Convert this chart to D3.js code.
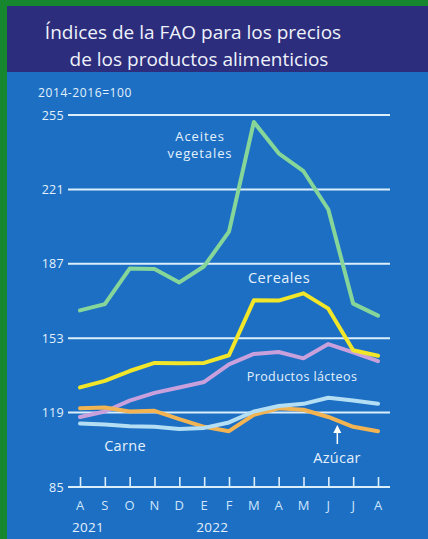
<!DOCTYPE html>
<html><head><meta charset="utf-8">
<script src="https://cdn.jsdelivr.net/npm/d3@7"></script>
<style>html,body{margin:0;padding:0;background:#17872f;}svg{display:block;}</style>
</head><body>
<script>
const months = ["A","S","O","N","D","E","F","M","A","M","J","J","A"];
const years = [{label:"2021", idx:0},{label:"2022", idx:5}];
const yTicks = [85,119,153,187,221,255];
const aceites = [165.7,168.6,184.8,184.6,178.5,185.9,201.7,251.8,237.5,229.3,211.8,168.8,163.3];
const cereales = [130.5,133.5,138.0,141.7,141.5,141.7,145.2,170.3,170.2,173.5,166.5,147.5,145.0];
const lacteos = [117.0,119.5,124.5,128.0,130.5,133.0,141.0,145.8,146.7,143.8,150.3,146.5,142.5];
const carne = [114.0,113.6,112.8,112.5,111.5,112.0,114.5,119.5,122.0,123.0,125.8,124.5,123.0];
const azucar = [121.0,121.3,119.5,119.8,116.0,112.5,110.5,118.0,121.0,120.3,117.0,112.5,110.5];

const W = 428, H = 539;
const svg = d3.select("body").append("svg").attr("width", W).attr("height", H);
svg.append("rect").attr("x",0).attr("y",0).attr("width",W).attr("height",H).attr("fill","#17872f");
svg.append("rect").attr("x",7).attr("y",6).attr("width",W-7).attr("height",H-6).attr("fill","#1c6fc3");
svg.append("rect").attr("x",7).attr("y",6).attr("width",W-7).attr("height",66).attr("fill","#2d2d7d");

const font = "'Open Sans', sans-serif";
const txtColor = "#e4f1fc";
svg.append("text").attr("x",193).attr("y",39).attr("text-anchor","middle")
  .attr("font-family",font).attr("font-size",19).attr("fill","#eef2fb").text("Índices de la FAO para los precios");
svg.append("text").attr("x",199).attr("y",66).attr("text-anchor","middle")
  .attr("font-family",font).attr("font-size",19).attr("fill","#eef2fb").text("de los productos alimenticios");
svg.append("text").attr("x",38).attr("y",97).attr("font-family",font).attr("font-size",12)
  .attr("letter-spacing",0.6).attr("fill",txtColor).text("2014-2016=100");

const x = d3.scalePoint().domain(d3.range(months.length)).range([80,378]);
const y = d3.scaleLinear().domain([85,255]).range([487,115]);

const g = svg.append("g");
g.selectAll("line.grid").data(yTicks).join("line")
  .attr("x1",68).attr("x2",390).attr("y1",d=>y(d)).attr("y2",d=>y(d))
  .attr("stroke","#dbeefc").attr("stroke-width",2);
g.selectAll("text.yl").data(yTicks).join("text")
  .attr("x",64).attr("y",d=>y(d)+4.5).attr("text-anchor","end")
  .attr("font-family",font).attr("font-size",12.5).attr("letter-spacing",0.3).attr("fill",txtColor).text(d=>d);

const xa = svg.append("g").attr("transform",`translate(0,${y(85)})`)
  .call(d3.axisTop(x).tickSize(10).tickFormat(""));
xa.select(".domain").remove();
xa.selectAll(".tick line").attr("stroke","#dbeefc").attr("stroke-width",1.6);
svg.selectAll("text.ml").data(months).join("text")
  .attr("x",(d,i)=>x(i)).attr("y",510).attr("text-anchor","middle")
  .attr("font-family",font).attr("font-size",13).attr("fill","#cfe5fb").text(d=>d);
svg.selectAll("text.yr").data(years).join("text")
  .attr("x",d=>x(d.idx)-8).attr("y",532)
  .attr("font-family",font).attr("font-size",13.5).attr("letter-spacing",0.3).attr("fill","#e4f1fc").text(d=>d.label);

const line = d3.line().x((d,i)=>x(i)).y(d=>y(d));
const series = [
  {v:aceites, c:"#86d69a"},
  {v:lacteos, c:"#c8a0dc"},
  {v:azucar, c:"#f2b452"},
  {v:carne, c:"#b4def4"},
  {v:cereales, c:"#f1e62a"}
];
svg.selectAll("path.s").data(series).join("path")
  .attr("d",d=>line(d.v)).attr("fill","none").attr("stroke",d=>d.c)
  .attr("stroke-width",4).attr("stroke-linejoin","round").attr("stroke-linecap","round");

const lab = (t,xx,yy,fs,ls)=>svg.append("text").attr("x",xx).attr("y",yy).attr("text-anchor","middle")
  .attr("font-family",font).attr("font-size",fs).attr("letter-spacing",ls).attr("fill",txtColor).text(t);
lab("Aceites",200,141,13,0.9);
lab("vegetales",200,158,13,0.9);
lab("Cereales",279,283,14.5,0.5);
lab("Productos lácteos",302,381,12.5,0.4);
lab("Carne",125,451,14.5,0.3);
lab("Azúcar",337,463,14.5,0.3);
svg.append("line").attr("x1",x(10)+9).attr("x2",x(10)+9).attr("y1",444).attr("y2",430)
  .attr("stroke","#ffffff").attr("stroke-width",1.5);
svg.append("path").attr("d",`M${x(10)+5},433 L${x(10)+9},425 L${x(10)+13},433 Z`).attr("fill","#ffffff");
</script>
</body></html>
